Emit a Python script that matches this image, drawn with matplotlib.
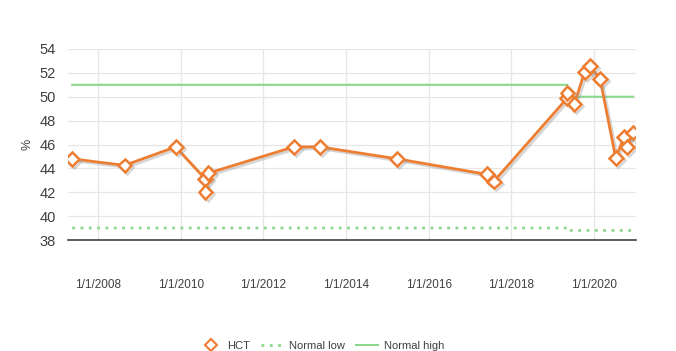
import matplotlib
matplotlib.use("Agg")
import matplotlib.pyplot as plt
import matplotlib.patheffects as pe
from matplotlib.lines import Line2D
from datetime import datetime

dates = ["2007-05-15", "2008-08-20", "2009-11-15", "2010-08-05", "2010-08-06",
         "2010-09-01", "2012-09-25", "2013-05-15", "2015-03-28", "2017-05-28",
         "2017-07-30", "2019-05-12", "2019-05-13", "2019-07-13", "2019-10-12",
         "2019-11-25", "2020-02-25", "2020-07-12", "2020-09-24", "2020-10-23",
         "2020-12-13"]
hct = [44.8, 44.25, 45.8, 43.1, 42.0, 43.6, 45.8, 45.8, 44.8, 43.5,
       42.9, 49.9, 50.3, 49.4, 52.1, 52.6, 51.5, 44.9, 46.6, 45.8, 47.0]
normal_low = [39] * 12 + [38.8] * 9
normal_high = [51] * 12 + [50] * 9
x_ticks = ["2008-01-01", "2010-01-01", "2012-01-01", "2014-01-01",
           "2016-01-01", "2018-01-01", "2020-01-01"]
x_tick_labels = ["1/1/2008", "1/1/2010", "1/1/2012", "1/1/2014",
                 "1/1/2016", "1/1/2018", "1/1/2020"]
y_ticks = [38, 40, 42, 44, 46, 48, 50, 52, 54]

plt.rcParams['font.family'] = ['Liberation Sans', 'DejaVu Sans']

d = [datetime.strptime(s, "%Y-%m-%d") for s in dates]
xt = [datetime.strptime(s, "%Y-%m-%d") for s in x_ticks]

fig = plt.figure(figsize=(6.76, 3.51), dpi=100)
ax = fig.add_axes([68/676, 1-240/351, (636-68)/676, (240-49)/351])

green = '#8ed68e'
orange = '#ED7D31'
ax.plot(d, normal_high, color=green, lw=1.5, label='Normal high', zorder=2)
ax.plot(d, normal_low, color=green, lw=2, ls=(0, (1, 2)), label='Normal low', zorder=2)
ax.plot(d, hct, color=orange, lw=2, marker='D', markersize=7,
        markerfacecolor='white', markeredgecolor=orange, markeredgewidth=1.8,
        label='HCT', zorder=3,
        path_effects=[pe.SimpleLineShadow(offset=(1.5, -1.5), shadow_color='#999999', alpha=0.4),
                      pe.Normal()])

ax.set_xlim(datetime(2007, 4, 8), datetime(2021, 1, 8))
ax.set_ylim(38, 54)
ax.set_yticks(y_ticks)
ax.set_xticks(xt)
ax.set_xticklabels(x_tick_labels)
ax.grid(True, color='#e6e6e6', lw=0.9)
ax.set_axisbelow(True)
for s in ['top', 'right', 'left']:
    ax.spines[s].set_visible(False)
ax.spines['bottom'].set_color('#404040')
ax.spines['bottom'].set_linewidth(1.2)
ax.tick_params(axis='both', length=0, colors='#404040')
ax.tick_params(axis='x', labelsize=8.5, pad=28)
ax.tick_params(axis='y', labelsize=10.5, pad=9)
ax.set_ylabel('%', color='#404040', fontsize=9, labelpad=4)

handles, labels = ax.get_legend_handles_labels()
h_hct = Line2D([], [], ls='none', marker='D', markersize=6, markerfacecolor='white',
               markeredgecolor=orange, markeredgewidth=1.5)
leg = fig.legend([h_hct, handles[1], handles[0]], ['HCT', 'Normal low', 'Normal high'],
                 loc='center', bbox_to_anchor=(322/676, 1-346/351), ncol=3, frameon=False,
                 fontsize=8, handlelength=2.0, columnspacing=1.0, handletextpad=0.5)
for t in leg.get_texts():
    t.set_color('#404040')

fig.savefig('out.png', dpi=100)
